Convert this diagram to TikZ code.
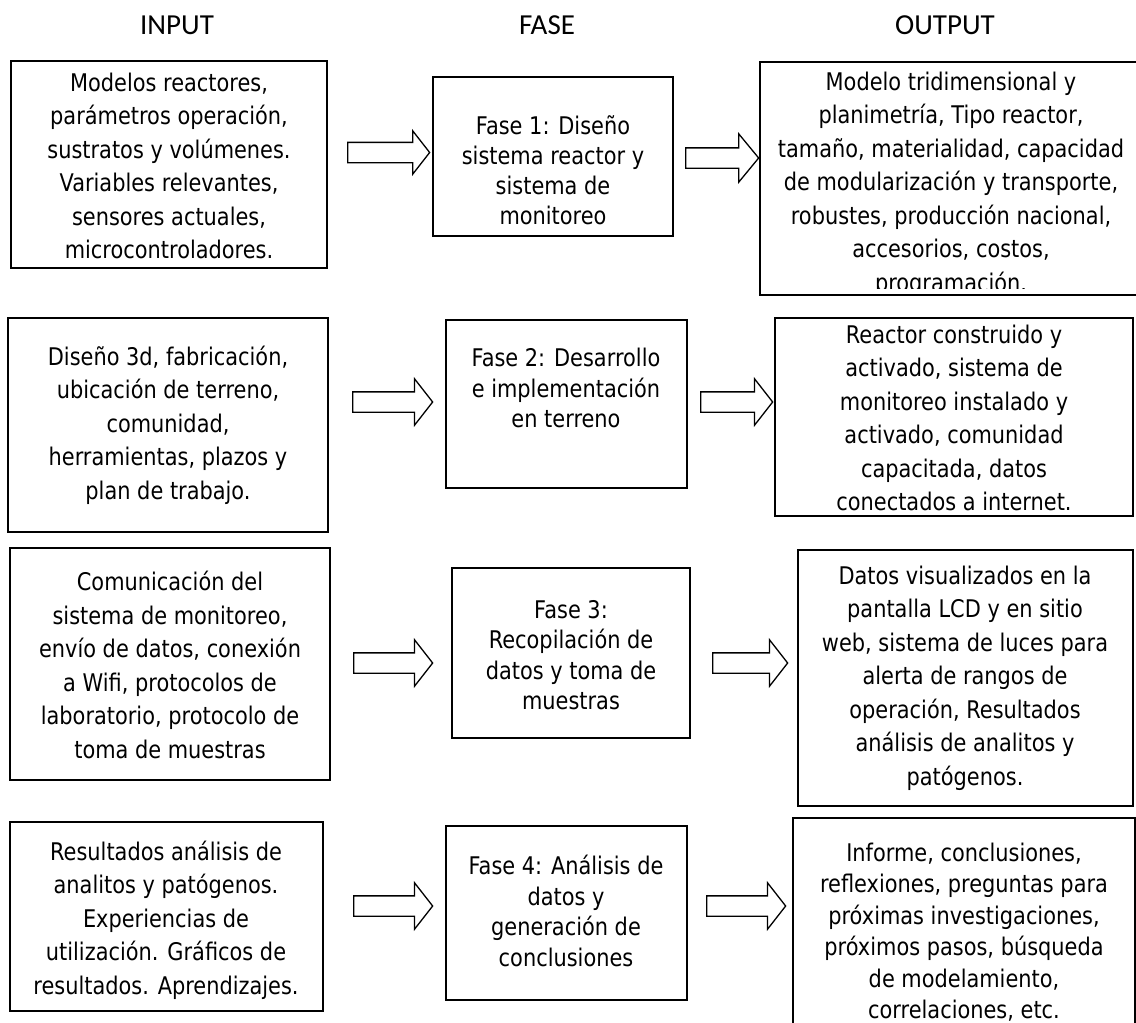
\documentclass[tikz,border=0pt]{standalone}
\usepackage{fontspec}
\setmainfont{DejaVu Sans}[FakeStretch=0.86]
\newfontfamily\hdrfont{Carlito}
\usetikzlibrary{shapes.arrows,fit}
\begin{document}
\begin{tikzpicture}[x=1pt,y=-1pt,
  frame/.style={draw, line width=1.5pt, inner sep=0pt},
  body/.style={align=center, inner sep=0pt, font=\fontsize{24.3}{33.5}\selectfont},
  fasetxt/.style={align=center, inner sep=0pt, font=\fontsize{24.3}{30.5}\selectfont},
  hdr/.style={font=\hdrfont\fontsize{29}{34}\selectfont, inner sep=0pt},
  blockarr/.style={single arrow, draw, line width=1.3pt, inner sep=0pt,
    text height=9.5pt, text depth=9.5pt, anchor=tail,
    single arrow head extend=13pt, single arrow tip angle=104}
]
\useasboundingbox (0,0) rectangle (1136,1023);

% headers
\node[hdr] (hin) at (177,25) {INPUT};
\node[hdr] (hfase) at (547,25) {FASE};
\node[hdr] (hout) at (945,25) {OUTPUT};

% ---------- row 1
\node[frame, fit={(11,61) (327,268)}] (in1) {};
\node[body] (in1t) at (169,166) {Modelos reactores,\\parámetros operación,\\sustratos y volúmenes.\\Variables relevantes,\\sensores actuales,\\microcontroladores.};
\node[frame, fit={(433,77) (673,236)}] (f1) {};
\node[fasetxt, font=\fontsize{24.3}{30}\selectfont] (f1t) at (553,170) {Fase 1: Diseño\\sistema reactor y\\sistema de\\monitoreo};
\node[frame, fit={(760,62) (1142,295)}] (o1) {};
\begin{scope}
\clip (760,62) rectangle (1142,288);
\node[body] (o1t) at (951,184) {Modelo tridimensional y\\planimetría, Tipo reactor,\\tamaño, materialidad, capacidad\\de modularización y transporte,\\robustes, producción nacional,\\accesorios, costos,\\programación.};
\end{scope}
\node[blockarr, minimum height=82pt, single arrow head extend=11.5pt] (a1) at (347,152.5) {};
\node[blockarr, minimum height=73pt, single arrow head extend=14pt, single arrow tip angle=101] (b1) at (685,158) {};

% ---------- row 2
\node[frame, fit={(8,318) (328,532)}] (in2) {};
\node[body] (in2t) at (168,425) {Diseño 3d, fabricación,\\ubicación de terreno,\\comunidad,\\herramientas, plazos y\\plan de trabajo.};
\node[frame, fit={(446,320) (687,488)}] (f2) {};
\node[fasetxt] (f2t) at (566,388) {Fase 2: Desarrollo\\e implementación\\en terreno};
\node[frame, fit={(775,318) (1133,516)}] (o2) {};
\node[body] (o2t) at (954,418) {Reactor construido y\\activado, sistema de\\monitoreo instalado y\\activado, comunidad\\capacitada, datos\\conectados a internet.};
\node[blockarr, minimum height=80pt] (a2) at (352,402) {};
\node[blockarr, minimum height=72pt] (b2) at (700,402) {};

% ---------- row 3
\node[frame, fit={(10,548) (330,780)}] (in3) {};
\node[body] (in3t) at (170,665) {Comunicación del\\sistema de monitoreo,\\envío de datos, conexión\\a Wifi, protocolos de\\laboratorio, protocolo de\\toma de muestras};
\node[frame, fit={(452,568) (690,738)}] (f3) {};
\node[fasetxt] (f3t) at (571,655) {Fase 3:\\Recopilación de\\datos y toma de\\muestras};
\node[frame, fit={(798,550) (1133,806)}] (o3) {};
\node[body] (o3t) at (965,678) {Datos visualizados en la\\pantalla LCD y en sitio\\web, sistema de luces para\\alerta de rangos de\\operación, Resultados\\análisis de analitos y\\patógenos.};
\node[blockarr, minimum height=79pt] (a3) at (353,663) {};
\node[blockarr, minimum height=75pt] (b3) at (712,663) {};

% ---------- row 4
\node[frame, fit={(10,822) (323,1011)}] (in4) {};
\node[body] (in4t) at (166,920) {Resultados análisis de\\analitos y patógenos.\\Experiencias de\\utilización. Gráficos de\\resultados. Aprendizajes.};
\node[frame, fit={(446,826) (687,1000)}] (f4) {};
\node[fasetxt] (f4t) at (566,911) {Fase 4: Análisis de\\datos y\\generación de\\conclusiones};
\node[frame, fit={(793,818) (1135,1060)}] (o4) {};
\node[body, font=\fontsize{24.3}{31.5}\selectfont] (o4t) at (964,932) {Informe, conclusiones,\\reflexiones, preguntas para\\próximas investigaciones,\\próximos pasos, búsqueda\\de modelamiento,\\correlaciones, etc.};
\node[blockarr, minimum height=79pt] (a4) at (353,906) {};
\node[blockarr, minimum height=79pt] (b4) at (706,906) {};
\end{tikzpicture}
\end{document}
